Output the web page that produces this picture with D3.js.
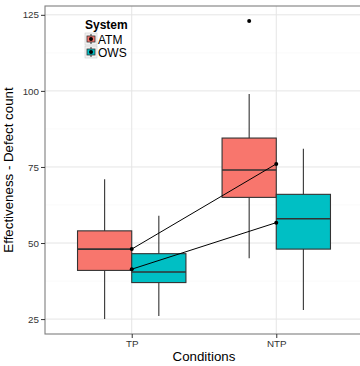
<!DOCTYPE html>
<html>
<head>
<meta charset="utf-8">
<script src="https://cdn.jsdelivr.net/npm/d3@7"></script>
<style>
  body { margin: 0; background: #fff; }
  svg { font-family: "Liberation Sans", Arial, Helvetica, sans-serif; display: block; }
  .axis path { display: none; }
  .axis line { stroke: #333; }
  .axis text { fill: #333; font-size: 9.8px; }
</style>
</head>
<body>
<script>
// data
var conditions = ['TP', 'NTP'];
var systems = ['ATM', 'OWS'];
var colors = ['#F8766D', '#00BFC4'];
// [lower whisker, q1, median, q3, upper whisker] per condition
var atmBoxes = [[25, 41, 48, 54, 71], [45, 65, 74, 84.5, 99]];
var owsBoxes = [[26, 37, 40.5, 46.5, 59], [28, 48, 58, 66, 81]];
var atmOutliers = [[], [123]];
var owsOutliers = [[], []];
var atmMeans = [48, 76];
var owsMeans = [41.4, 56.7];
var yTicks = [25, 50, 75, 100, 125];
var yMinor = [37.5, 62.5, 87.5, 112.5];

var boxes = [atmBoxes, owsBoxes],
    outliers = [atmOutliers, owsOutliers],
    means = [atmMeans, owsMeans];

var svgWidth = 360, svgHeight = 366,
    margin = { top: 6, left: 45, right: -3, bottom: 32 },
    chartWidth = svgWidth - margin.left - margin.right,
    chartHeight = svgHeight - margin.top - margin.bottom;

var x = d3.scalePoint().domain(conditions).range([0, chartWidth]).padding(0.6);
var step = x.step();
var boxW = step * 0.375;

var y = d3.scaleLinear().domain([20.1, 127.9]).range([chartHeight, 0]);

var svg = d3.select('body').append('svg')
  .attr('width', svgWidth)
  .attr('height', svgHeight);

var g = svg.append('g')
  .attr('transform', 'translate(' + margin.left + ',' + margin.top + ')');

// grid
g.selectAll('.minor').data(yMinor).enter().append('line')
  .attr('x1', 0).attr('x2', chartWidth)
  .attr('y1', function (d) { return y(d); }).attr('y2', function (d) { return y(d); })
  .attr('stroke', '#fafafa');
g.selectAll('.major').data(yTicks).enter().append('line')
  .attr('x1', 0).attr('x2', chartWidth)
  .attr('y1', function (d) { return y(d); }).attr('y2', function (d) { return y(d); })
  .attr('stroke', '#e5e5e5');
g.selectAll('.vmajor').data(conditions).enter().append('line')
  .attr('y1', 0).attr('y2', chartHeight)
  .attr('x1', function (d) { return x(d); }).attr('x2', function (d) { return x(d); })
  .attr('stroke', '#e5e5e5');

// boxplots
systems.forEach(function (s, si) {
  var off = (si === 0 ? -0.5 : 0.5) * boxW;
  conditions.forEach(function (c, ci) {
    var b = boxes[si][ci];
    var cx = x(c) + off;
    var bg = g.append('g');
    bg.append('line')
      .attr('x1', cx).attr('x2', cx)
      .attr('y1', y(b[0])).attr('y2', y(b[4]))
      .attr('stroke', '#333').attr('stroke-width', 1.1);
    bg.append('rect')
      .attr('x', cx - boxW / 2).attr('width', boxW)
      .attr('y', y(b[3])).attr('height', y(b[1]) - y(b[3]))
      .attr('fill', colors[si]).attr('stroke', '#333').attr('stroke-width', 1.1);
    bg.append('line')
      .attr('x1', cx - boxW / 2).attr('x2', cx + boxW / 2)
      .attr('y1', y(b[2])).attr('y2', y(b[2]))
      .attr('stroke', '#333').attr('stroke-width', 1.6);
    bg.selectAll('circle').data(outliers[si][ci]).enter().append('circle')
      .attr('cx', cx).attr('cy', function (d) { return y(d); })
      .attr('r', 2).attr('fill', '#000');
  });
});

// mean lines
var line = d3.line()
  .x(function (d, i) { return x(conditions[i]); })
  .y(function (d) { return y(d); });

means.forEach(function (m) {
  g.append('path').datum(m)
    .attr('d', line)
    .attr('fill', 'none').attr('stroke', '#000').attr('stroke-width', 1);
  g.selectAll(null).data(m).enter().append('circle')
    .attr('cx', function (d, i) { return x(conditions[i]); })
    .attr('cy', function (d) { return y(d); })
    .attr('r', 2).attr('fill', '#000');
});

// panel border
g.append('rect')
  .attr('x', 0).attr('y', 0).attr('width', chartWidth).attr('height', chartHeight)
  .attr('fill', 'none').attr('stroke', '#7f7f7f').attr('stroke-width', 1.1);

// axes
g.append('g').attr('class', 'axis')
  .call(d3.axisLeft(y).tickValues(yTicks).tickSize(4).tickPadding(2));
g.append('g').attr('class', 'axis')
  .attr('transform', 'translate(0,' + chartHeight + ')')
  .call(d3.axisBottom(x).tickSize(4).tickPadding(2));

g.append('text')
  .attr('x', chartWidth / 2).attr('y', chartHeight + 27)
  .attr('text-anchor', 'middle').attr('font-size', '13.3px').attr('fill', '#000')
  .text('Conditions');

g.append('text')
  .attr('transform', 'translate(' + (-32) + ',' + (chartHeight / 2) + ') rotate(-90)')
  .attr('text-anchor', 'middle').attr('font-size', '13.3px').attr('fill', '#000')
  .text('Effectiveness - Defect count');

// legend
var legend = svg.append('g').attr('transform', 'translate(85,20)');
legend.append('text')
  .attr('x', 0).attr('y', 9)
  .attr('font-size', '12px').attr('font-weight', 'bold')
  .text('System');

systems.forEach(function (s, i) {
  var k = legend.append('g').attr('transform', 'translate(0,' + (13 + i * 13) + ')');
  k.append('rect').attr('x', 0).attr('y', 0).attr('width', 12).attr('height', 12)
    .attr('fill', '#f2f2f2').attr('stroke', '#ccc').attr('stroke-width', 0.6);
  k.append('line').attr('x1', 6).attr('x2', 6).attr('y1', 1).attr('y2', 11)
    .attr('stroke', '#333');
  k.append('rect').attr('x', 2).attr('y', 3).attr('width', 8).attr('height', 6)
    .attr('fill', colors[i]).attr('stroke', '#333').attr('stroke-width', 0.8);
  k.append('circle').attr('cx', 6).attr('cy', 6).attr('r', 2).attr('fill', '#000');
  k.append('text').attr('x', 13).attr('y', 10.5)
    .attr('font-size', '12px').attr('fill', '#000')
    .text(s);
});
</script>
</body>
</html>
